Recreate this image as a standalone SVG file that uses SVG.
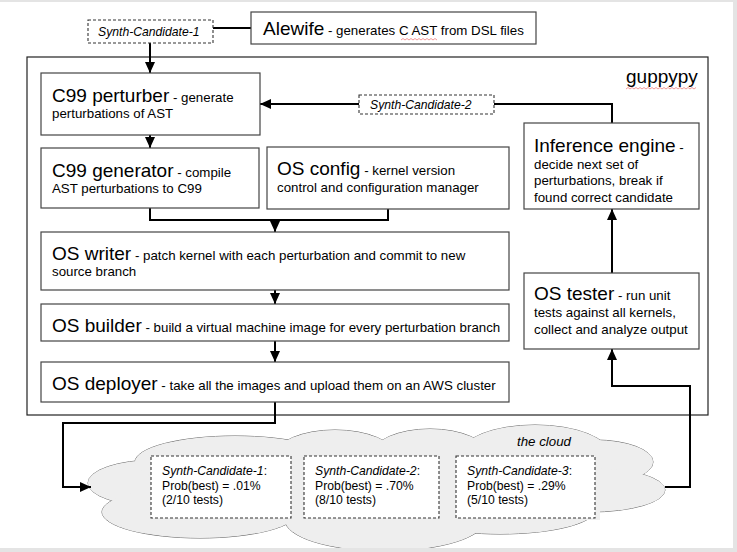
<svg xmlns="http://www.w3.org/2000/svg" width="737" height="552" viewBox="0 0 737 552">
<style>
text{font-family:"Liberation Sans",Arial,sans-serif;fill:#000}
.big{font-size:19px}
.sm{font-size:13.3px}
.it{font-style:italic}
.box{fill:#fff;stroke:#444;stroke-width:1.2}
.dash{fill:#fff;stroke:#333;stroke-width:1.1;stroke-dasharray:3 2}
.con{fill:none;stroke:#000;stroke-width:2}
.cl{fill:#eee;stroke:#666;stroke-width:1}
.clf{fill:#eee;stroke:none}
.sq{fill:none;stroke:#f08080;stroke-width:0.8}
.ct{font-size:12.2px}
</style>
<defs>
<marker id="ah" markerUnits="userSpaceOnUse" markerWidth="12" markerHeight="12" viewBox="0 0 12 12" refX="11" refY="6" orient="auto">
<path d="M0,1 L11,6 L0,11 Z" fill="#000"/>
</marker>
</defs>
<rect x="0" y="0" width="737" height="552" fill="#e4e4e4"/>
<rect x="0" y="2" width="733" height="546" fill="#fff"/>

<g id="guppypy">
<rect x="27" y="57" width="681" height="358" fill="none" stroke="#222" stroke-width="1.2"/>
<text x="626" y="83" class="big">guppypy</text>
<path class="sq" d="M626,89 l2,-1.5 l2,1.5 l2,-1.5 l2,1.5 l2,-1.5 l2,1.5 l2,-1.5 l2,1.5 l2,-1.5 l2,1.5 l2,-1.5 l2,1.5 l2,-1.5 l2,1.5 l2,-1.5 l2,1.5 l2,-1.5 l2,1.5 l2,-1.5 l2,1.5 l2,-1.5 l2,1.5 l2,-1.5 l2,1.5 l2,-1.5 l2,1.5 l2,-1.5 l2,1.5 l2,-1.5 l2,1.5 l2,-1.5 l2,1.5 l2,-1.5 l2,1.5 l2,-1.5"/>
</g>

<g id="cloud">
<g>
<ellipse class="cl" cx="155" cy="483" rx="67" ry="23"/>
<ellipse class="cl" cx="200" cy="512" rx="98" ry="26"/>
<ellipse class="cl" cx="235" cy="462" rx="100" ry="26"/>
<ellipse class="cl" cx="335" cy="456" rx="60" ry="26"/>
<ellipse class="cl" cx="430" cy="455" rx="58" ry="26"/>
<ellipse class="cl" cx="535" cy="455" rx="75" ry="30"/>
<ellipse class="cl" cx="595" cy="462" rx="58" ry="22"/>
<ellipse class="cl" cx="590" cy="490" rx="75" ry="22"/>
<ellipse class="cl" cx="500" cy="510" rx="95" ry="24"/>
<ellipse class="cl" cx="385" cy="520" rx="100" ry="31"/>
</g>
<g>
<ellipse class="clf" cx="155" cy="483" rx="67" ry="23"/>
<ellipse class="clf" cx="200" cy="512" rx="98" ry="26"/>
<ellipse class="clf" cx="235" cy="462" rx="100" ry="26"/>
<ellipse class="clf" cx="335" cy="456" rx="60" ry="26"/>
<ellipse class="clf" cx="430" cy="455" rx="58" ry="26"/>
<ellipse class="clf" cx="535" cy="455" rx="75" ry="30"/>
<ellipse class="clf" cx="595" cy="462" rx="58" ry="22"/>
<ellipse class="clf" cx="590" cy="490" rx="75" ry="22"/>
<ellipse class="clf" cx="500" cy="510" rx="95" ry="24"/>
<ellipse class="clf" cx="385" cy="520" rx="100" ry="31"/>
<rect class="clf" x="150" y="450" width="450" height="70"/>
</g>
<text x="517" y="446" class="sm it">the cloud</text>
</g>

<g id="connectors">
<path class="con" d="M213,28 H251"/>
<path class="con" d="M150,43 V73" marker-end="url(#ah)"/>
<path class="con" d="M612,123 V104 H494"/>
<path class="con" d="M359,104 H260" marker-end="url(#ah)"/>
<path class="con" d="M150,135 V148" marker-end="url(#ah)"/>
<path class="con" d="M150,208 V220 H388 V209"/>
<path class="con" d="M275,220 V232" marker-end="url(#ah)"/>
<path class="con" d="M275,290 V304" marker-end="url(#ah)"/>
<path class="con" d="M275,341 V362" marker-end="url(#ah)"/>
<path class="con" d="M275,402 V423 H63 V487 H91" marker-end="url(#ah)"/>
<path class="con" d="M665,487 H690 V386 H612 V349" marker-end="url(#ah)"/>
<path class="con" d="M612,273 V209" marker-end="url(#ah)"/>
</g>

<g id="synth-candidate-1-top">
<rect class="dash" x="88" y="20" width="125" height="23"/>
<text x="98" y="36" class="ct it">Synth-Candidate-1</text>
</g>

<g id="alewife">
<rect class="box" x="251" y="12" width="285" height="32"/>
<text x="263" y="35"><tspan class="big">Alewife</tspan><tspan class="sm"> - generates C AST from DSL files</tspan></text>
<path class="sq" d="M401,40 l2,-1.5 l2,1.5 l2,-1.5 l2,1.5 l2,-1.5 l2,1.5 l2,-1.5 l2,1.5 l2,-1.5 l2,1.5 l2,-1.5 l2,1.5 l2,-1.5 l2,1.5 l2,-1.5 l2,1.5 l2,-1.5 l2,1.5"/>
</g>

<g id="c99-perturber">
<rect class="box" x="41" y="73" width="219" height="62"/>
<text x="52" y="102"><tspan class="big">C99 perturber</tspan><tspan class="sm"> - generate</tspan></text>
<text x="52" y="118" class="sm">perturbations of AST</text>
</g>

<g id="synth-candidate-2-top">
<rect class="dash" x="359" y="95" width="135" height="19"/>
<text x="370" y="109" class="ct it">Synth-Candidate-2</text>
</g>

<g id="c99-generator">
<rect class="box" x="41" y="148" width="218" height="60"/>
<text x="52" y="177"><tspan class="big">C99 generator</tspan><tspan class="sm"> - compile</tspan></text>
<text x="52" y="193" class="sm">AST perturbations to C99</text>
</g>

<g id="os-config">
<rect class="box" x="267" y="147" width="242" height="62"/>
<text x="277" y="175"><tspan class="big">OS config</tspan><tspan class="sm"> - kernel version</tspan></text>
<text x="277" y="192" class="sm">control and configuration manager</text>
</g>

<g id="os-writer">
<rect class="box" x="41" y="232" width="468" height="58"/>
<text x="52" y="260"><tspan class="big">OS writer</tspan><tspan class="sm"> - patch kernel with each perturbation and commit to new</tspan></text>
<text x="52" y="276" class="sm">source branch</text>
</g>

<g id="os-builder">
<rect class="box" x="41" y="304" width="468" height="37"/>
<text x="52" y="332"><tspan class="big">OS builder</tspan><tspan class="sm"> - build a virtual machine image for every perturbation branch</tspan></text>
</g>

<g id="os-deployer">
<rect class="box" x="41" y="362" width="468" height="40"/>
<text x="52" y="390"><tspan class="big">OS deployer</tspan><tspan class="sm"> - take all the images and upload them on an AWS cluster</tspan></text>
</g>

<g id="inference-engine">
<rect class="box" x="524" y="123" width="175" height="86"/>
<text x="534" y="152"><tspan class="big">Inference engine</tspan><tspan class="sm"> -</tspan></text>
<text x="534" y="168.5" class="sm">decide next set of</text>
<text x="534" y="185" class="sm">perturbations, break if</text>
<text x="534" y="201.5" class="sm">found correct candidate</text>
</g>

<g id="os-tester">
<rect class="box" x="524" y="273" width="175" height="76"/>
<text x="534" y="300"><tspan class="big">OS tester</tspan><tspan class="sm"> - run unit</tspan></text>
<text x="534" y="317" class="sm">tests against all kernels,</text>
<text x="534" y="334" class="sm">collect and analyze output</text>
</g>

<g id="candidate-1">
<rect class="dash" x="151" y="456" width="140" height="62"/>
<text x="162" y="475" class="ct"><tspan class="it">Synth-Candidate-1</tspan>:</text>
<text x="162" y="489.5" class="ct">Prob(best) = .01%</text>
<text x="162" y="504" class="ct">(2/10 tests)</text>
</g>

<g id="candidate-2">
<rect class="dash" x="304" y="456" width="135" height="62"/>
<text x="315" y="475" class="ct"><tspan class="it">Synth-Candidate-2</tspan>:</text>
<text x="315" y="489.5" class="ct">Prob(best) = .70%</text>
<text x="315" y="504" class="ct">(8/10 tests)</text>
</g>

<g id="candidate-3">
<rect class="dash" x="456" y="456" width="139" height="62"/>
<text x="467" y="475" class="ct"><tspan class="it">Synth-Candidate-3</tspan>:</text>
<text x="467" y="489.5" class="ct">Prob(best) = .29%</text>
<text x="467" y="504" class="ct">(5/10 tests)</text>
</g>

<rect x="0" y="548" width="737" height="4" fill="#e4e4e4"/>
<rect x="733" y="0" width="4" height="552" fill="#e4e4e4"/>
</svg>
